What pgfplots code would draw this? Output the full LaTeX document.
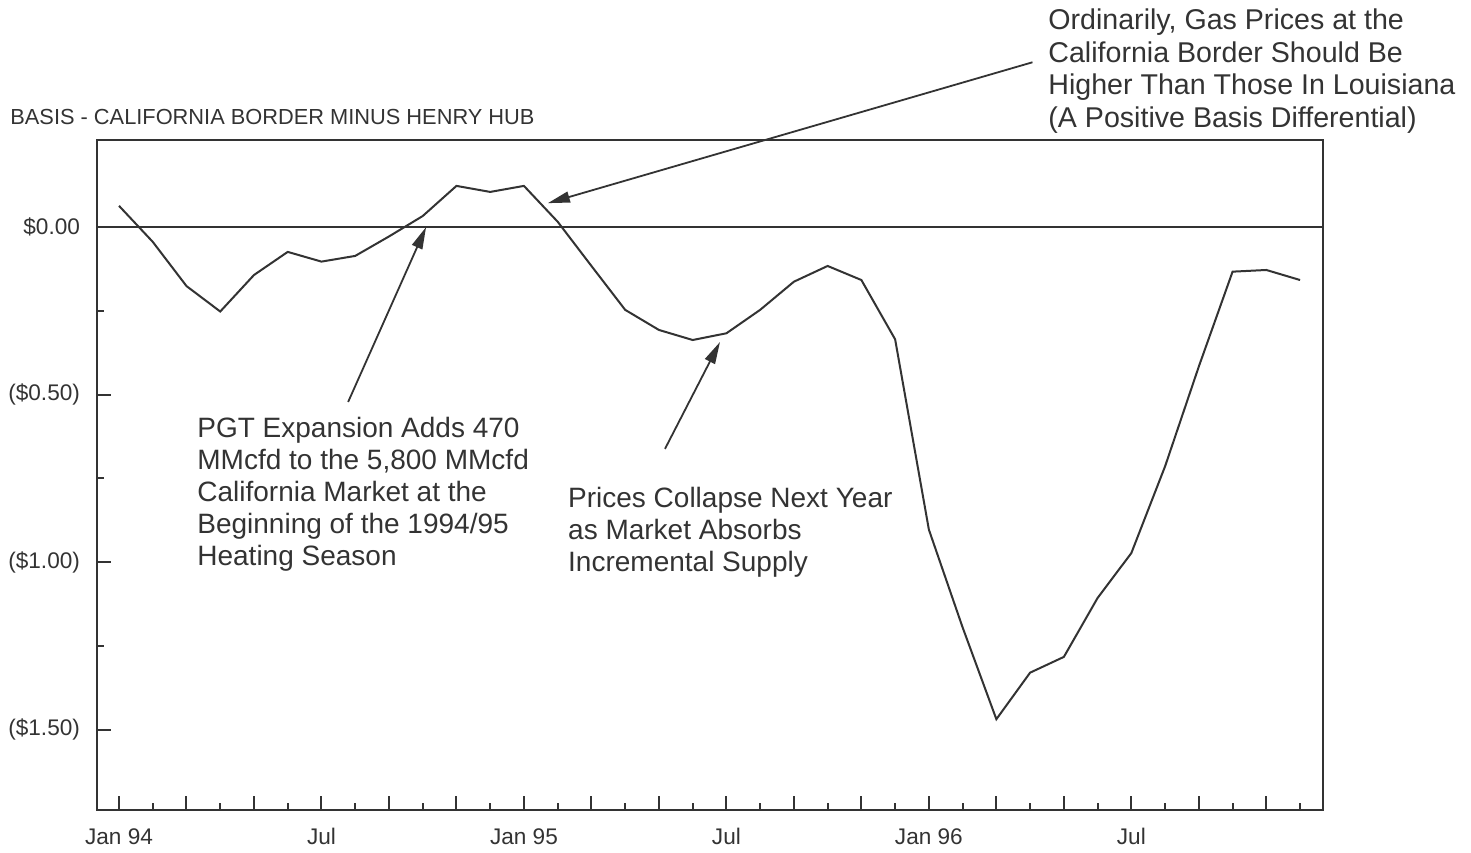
\documentclass[border=0pt]{standalone}
\usepackage{fontspec}
\setmainfont{Liberation Sans}
\usepackage{pgfplots}
\pgfplotsset{compat=1.18}
\usetikzlibrary{arrows.meta}
\definecolor{ink}{HTML}{333333}
\pgfplotstableread{
m v
0 0.0635
1 -0.044
2 -0.176
3 -0.252
4 -0.143
5 -0.074
6 -0.103
7 -0.086
8 -0.028
9 0.033
10 0.123
11 0.105
12 0.123
13 0.016
14 -0.116
15 -0.247
16 -0.307
17 -0.337
18 -0.317
19 -0.247
20 -0.163
21 -0.116
22 -0.158
23 -0.335
24 -0.903
25 -1.195
26 -1.469
27 -1.330
28 -1.283
29 -1.107
30 -0.973
31 -0.714
32 -0.416
33 -0.133
34 -0.128
35 -0.158
}\basis
\begin{document}
\begin{tikzpicture}
\begin{axis}[
  at={(0,0)}, anchor=south west,
  scale only axis, width=613pt, height=335pt,
  xmin=-0.652, xmax=35.68, ymin=-1.74, ymax=0.26,
  clip=false,
  axis line style={ink, line width=1.2pt},
  xtick={0,2,...,34}, minor xtick={1,3,...,35},
  xticklabels={Jan 94,,,Jul,,,Jan 95,,,Jul,,,Jan 96,,,Jul,,},
  ytick={-1.5,-1,-0.5,0}, minor ytick={-1.25,-0.75,-0.25},
  yticklabels={(\$1.50),(\$1.00),(\$0.50),\$0.00},
  tick align=inside, xtick pos=lower, ytick pos=left,
  major tick length=7pt, minor tick length=3.5pt,
  tick style={ink, line width=1pt},
  tick label style={font=\fontsize{11.3}{13}\selectfont, text=ink},
  xticklabel style={anchor=base, yshift=-17.3pt},
  yticklabel style={xshift=-5pt},
]
\addplot[ink, line width=1pt] coordinates {(-0.652,0) (35.68,0)};
\addplot[ink, line width=1pt] table[x=m, y=v] {\basis};

\node[anchor=west, text=ink, font=\fontsize{10.9}{12}\selectfont, inner sep=0pt]
  at (axis cs:-3.23,0.328) {BASIS - CALIFORNIA BORDER MINUS HENRY HUB};

\node[anchor=north west, align=left, inner sep=0pt, text=ink,
  font=\fontsize{14.3}{16.2}\selectfont] at (axis cs:27.53,0.652)
  {Ordinarily, Gas Prices at the\\California Border Should Be\\Higher Than Those In Louisiana\\(A Positive Basis Differential)};
\draw[ink, line width=0.9pt, -{Triangle[length=11pt,width=5.5pt]}]
  (axis cs:27.07,0.492) -- (axis cs:12.71,0.0715);

\node[anchor=north west, align=left, inner sep=0pt, text=ink,
  font=\fontsize{14}{16.1}\selectfont] at (axis cs:2.311,-0.565)
  {PGT Expansion Adds 470\\MMcfd to the 5,800 MMcfd\\California Market at the\\Beginning of the 1994/95\\Heating Season};
\draw[ink, line width=0.9pt, -{Triangle[length=11pt,width=5.5pt]}]
  (axis cs:6.79,-0.522) -- (axis cs:9.10,0.0);

\node[anchor=north west, align=left, inner sep=0pt, text=ink,
  font=\fontsize{14}{16.1}\selectfont] at (axis cs:13.30,-0.775)
  {Prices Collapse Next Year\\as Market Absorbs\\Incremental Supply};
\draw[ink, line width=0.9pt, -{Triangle[length=11pt,width=5.5pt]}]
  (axis cs:16.18,-0.662) -- (axis cs:17.81,-0.343);
\end{axis}
\pgfresetboundingbox
\useasboundingbox (-48.5pt,-21pt) rectangle (687pt,405pt);
\end{tikzpicture}
\end{document}
